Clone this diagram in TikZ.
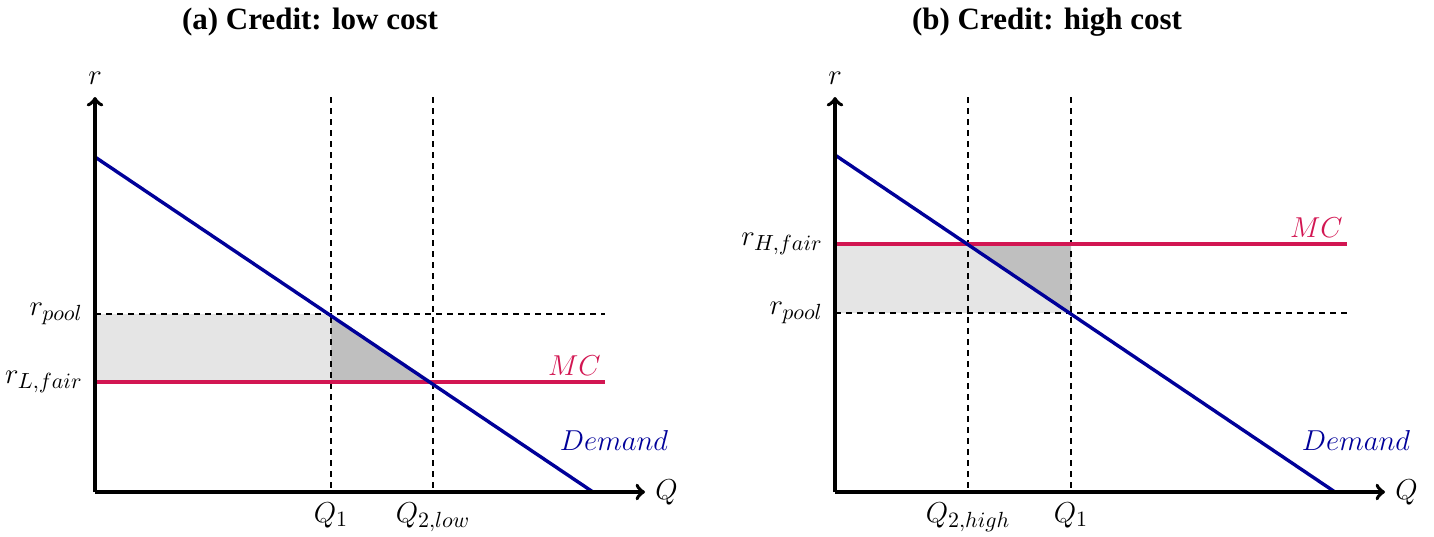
\documentclass[tikz,border=0pt]{standalone}
\usepackage{fontspec}
\setmainfont{Liberation Serif}
\usetikzlibrary{positioning,arrows.meta}
\definecolor{demandblue}{RGB}{0,0,153}
\definecolor{mcred}{RGB}{210,22,82}
\definecolor{surplus}{gray}{0.9}
\definecolor{deadloss}{gray}{0.75}
\tikzset{
  axis/.style={line width=1.9pt,->,>=to},
  guide/.style={line width=0.8pt,dash pattern=on 3pt off 2.5pt},
  demandline/.style={demandblue,line width=1.7pt},
  mcline/.style={mcred,line width=1.7pt},
  lbl/.style={font=\fontsize{15}{18}\selectfont,inner sep=2pt},
  paneltitle/.style={font=\fontsize{15.5}{18}\selectfont\bfseries},
}

\begin{document}
\begin{tikzpicture}[x=0.5pt,y=-0.5pt]
\useasboundingbox (0,0) rectangle (1434,536);

% (a) low cost
\node[paneltitle] (ta) at (310,22) {(a) Credit: low cost};
\coordinate (oa) at (95,492);
\coordinate (ya) at (95,97);
\coordinate (xa) at (645,492);
\coordinate (da1) at (95,157);
\coordinate (da2) at (593,492);
\coordinate (pa0) at (95,314);
\coordinate (pa1) at (605,314);
\coordinate (ma0) at (95,382);
\coordinate (ma1) at (605,382);
\coordinate (qa1) at (331,97);
\coordinate (qa1b) at (331,492);
\coordinate (qa2) at (433,97);
\coordinate (qa2b) at (433,492);

\fill[surplus] (pa0) rectangle (331,382);
\fill[deadloss] (331,314) -- (331,382) -- (433,382) -- cycle;
\draw[guide] (pa0) -- (pa1);
\draw[guide] (qa1) -- (qa1b);
\draw[guide] (qa2) -- (qa2b);
\draw[mcline] (ma0) -- (ma1);
\draw[demandline] (da1) -- (da2);
\draw[axis] (oa) -- (ya);
\draw[axis] (oa) -- (xa);

\node[lbl,above=4pt of ya] (ra) {$r$};
\node[lbl,right=3pt of xa] (Qa) {$Q$};
\node[lbl,left=4pt of pa0] (rpa) {$r_{pool}$};
\node[lbl,left=4pt of ma0] (rla) {$r_{L,fair}$};
\node[lbl,below=3pt of qa1b] (q1a) {$Q_1$};
\node[lbl,below=3pt of qa2b] (q2a) {$Q_{2,low}$};
\node[lbl,mcred,above left=1pt and 0pt of ma1] (mca) {$MC$};
\node[lbl,demandblue] (dema) at (614,440) {$Demand$};

% (b) high cost
\node[paneltitle] (tb) at (1047,22) {(b) Credit: high cost};
\coordinate (ob) at (835,492);
\coordinate (yb) at (835,97);
\coordinate (xb) at (1385,492);
\coordinate (db1) at (835,155);
\coordinate (db2) at (1335,492);
\coordinate (pb0) at (835,313);
\coordinate (pb1) at (1347,313);
\coordinate (mb0) at (835,244);
\coordinate (mb1) at (1347,244);
\coordinate (qb2) at (968,97);
\coordinate (qb2b) at (968,492);
\coordinate (qb1) at (1071,97);
\coordinate (qb1b) at (1071,492);

\fill[surplus] (mb0) rectangle (1071,313);
\fill[deadloss] (968,244) -- (1071,244) -- (1071,313) -- cycle;
\draw[guide] (pb0) -- (pb1);
\draw[guide] (qb2) -- (qb2b);
\draw[guide] (qb1) -- (qb1b);
\draw[mcline] (mb0) -- (mb1);
\draw[demandline] (db1) -- (db2);
\draw[axis] (ob) -- (yb);
\draw[axis] (ob) -- (xb);

\node[lbl,above=4pt of yb] (rb) {$r$};
\node[lbl,right=3pt of xb] (Qb) {$Q$};
\node[lbl,left=4pt of mb0] (rhb) {$r_{H,fair}$};
\node[lbl,left=4pt of pb0] (rpb) {$r_{pool}$};
\node[lbl,below=3pt of qb2b] (q2b) {$Q_{2,high}$};
\node[lbl,below=3pt of qb1b] (q1b) {$Q_1$};
\node[lbl,mcred,above left=1pt and 0pt of mb1] (mcb) {$MC$};
\node[lbl,demandblue] (demb) at (1356,440) {$Demand$};

\end{tikzpicture}
\end{document}
